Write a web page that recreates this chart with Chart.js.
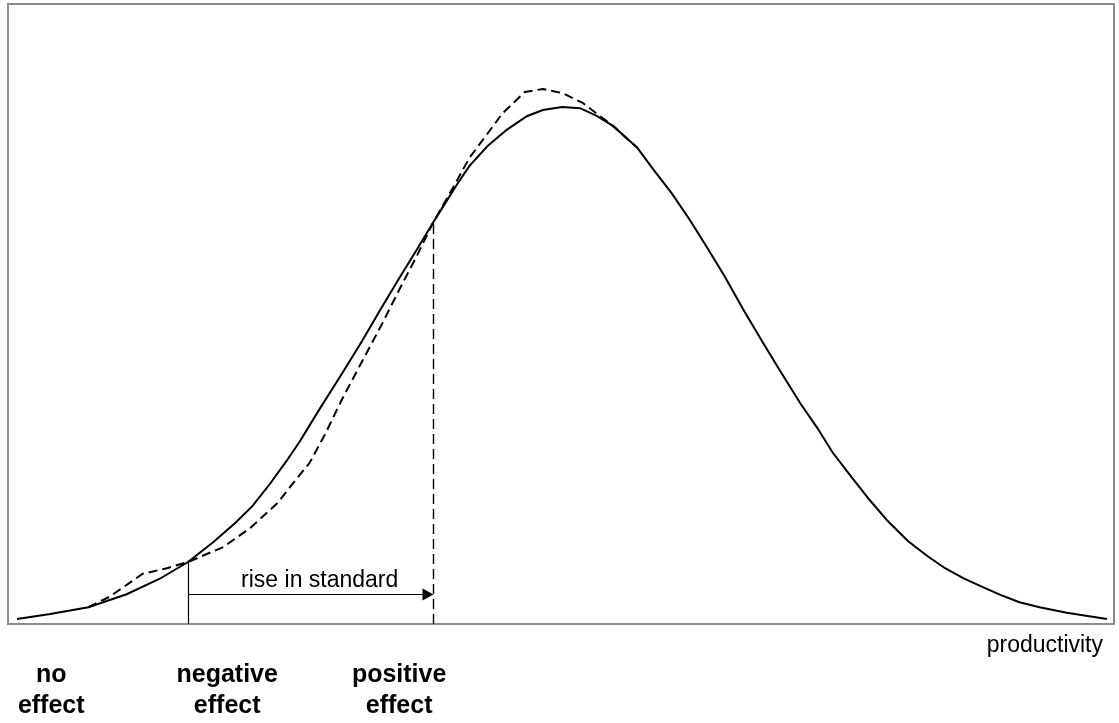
<!DOCTYPE html>
<html>
<head>
<meta charset="utf-8">
<script src="https://cdn.jsdelivr.net/npm/chart.js@4/dist/chart.umd.min.js"></script>
<style>
  html, body { margin: 0; padding: 0; background: #fff; }
  #wrap { width: 1119px; height: 723px; }
</style>
</head>
<body>
<div id="wrap"><canvas id="bellChart" width="1119" height="723"></canvas></div>
<script>
// original productivity distribution (solid)
var baseX = [0.9, 4.2, 8.0, 11.8, 15.1, 17.9, 20.4, 22.6, 24.3, 26.1, 27.7, 29.0, 31.0, 33.3, 35.2, 37.0, 38.8, 40.7, 42.3, 43.3, 44.7, 45.9, 47.7, 49.6, 51.6, 53.2, 55.1, 56.9, 58.6, 60.2, 62.6, 64.1, 66.0, 67.8, 69.5, 71.3, 73.1, 75.0, 76.8, 78.8, 80.5, 82.0, 83.9, 85.7, 87.5, 89.5, 91.4, 93.2, 95.0, 96.9, 98.7, 100.6, 102.6, 105.3, 109.3];
var baseY = [0.8, 1.6, 2.7, 4.8, 7.3, 10.0, 13.2, 16.3, 19.0, 22.7, 26.3, 29.4, 34.7, 40.6, 45.6, 50.6, 55.5, 60.5, 64.8, 67.4, 71.0, 73.9, 77.1, 79.7, 81.9, 82.9, 83.4, 83.2, 81.9, 80.3, 76.8, 73.5, 69.5, 65.2, 60.8, 56.0, 50.8, 45.6, 40.8, 35.6, 31.6, 27.7, 23.7, 20.0, 16.6, 13.4, 11.0, 9.0, 7.4, 6.0, 4.7, 3.5, 2.7, 1.8, 0.8];

// distribution after the rise in standard (dashed)
var newX = [8.0, 10.1, 13.4, 15.8, 17.9, 21.4, 24.1, 26.8, 28.3, 30.0, 31.5, 33.3, 35.2, 37.2, 39.0, 40.7, 42.3, 44.3, 45.9, 47.6, 49.2, 51.4, 53.2, 55.2, 57.2, 58.9, 60.2, 62.6];
var newY = [2.7, 4.4, 8.1, 9.0, 10.0, 12.4, 15.5, 19.5, 22.6, 26.0, 30.5, 36.5, 42.3, 48.4, 54.2, 59.5, 64.8, 70.5, 75.2, 78.9, 82.4, 85.8, 86.3, 85.6, 84.0, 81.9, 80.3, 76.8];

// old and new standard (x, height of curve)
var oldStandard = [17.9, 10.0];
var newStandard = [42.3, 64.8];
var arrowLevel = 4.8;
var arrowText = "rise in standard";
var arrowTextPos = [31.0, 6.0];

var effectLabels = [["no", "effect"], ["negative", "effect"], ["positive", "effect"]];
var effectX = [4.3, 21.8, 38.9];
var axisTitle = "productivity";

function toPoints(xs, ys) {
    return xs.map(function (x, i) { return { x: x, y: ys[i] }; });
}

var annotations = {
    id: "annotations",
    afterDatasetsDraw: function (chart) {
        var c = chart.ctx, xs = chart.scales.x, ys = chart.scales.y, a = chart.chartArea;
        c.save();
        // frame
        c.strokeStyle = "#8c8c8c";
        c.lineWidth = 2;
        c.strokeRect(a.left, a.top, a.right - a.left, a.bottom - a.top);

        c.strokeStyle = "#000";
        c.lineWidth = 1.2;
        // old standard (solid)
        var x1 = Math.round(xs.getPixelForValue(oldStandard[0])) + 0.5;
        c.beginPath();
        c.moveTo(x1, ys.getPixelForValue(0));
        c.lineTo(x1, ys.getPixelForValue(oldStandard[1]));
        c.stroke();
        // new standard (dashed)
        var x2 = Math.round(xs.getPixelForValue(newStandard[0])) + 0.5;
        c.lineWidth = 1.4;
        c.setLineDash([10, 5]);
        c.beginPath();
        c.moveTo(x2, ys.getPixelForValue(0));
        c.lineTo(x2, ys.getPixelForValue(newStandard[1]));
        c.stroke();
        c.setLineDash([]);

        // arrow
        c.lineWidth = 1.2;
        var ay = Math.round(ys.getPixelForValue(arrowLevel)) + 0.5;
        c.beginPath();
        c.moveTo(x1, ay);
        c.lineTo(x2 - 10, ay);
        c.stroke();
        c.fillStyle = "#000";
        c.beginPath();
        c.moveTo(x2, ay);
        c.lineTo(x2 - 11, ay - 6);
        c.lineTo(x2 - 11, ay + 6);
        c.closePath();
        c.fill();

        c.font = "23px 'Liberation Sans', Arial, sans-serif";
        c.textAlign = "center";
        c.textBaseline = "alphabetic";
        c.fillText(arrowText, xs.getPixelForValue(arrowTextPos[0]), ys.getPixelForValue(arrowTextPos[1]));

        // axis title
        c.textAlign = "right";
        c.fillText(axisTitle, a.right - 11, a.bottom + 28);

        // effect labels
        c.font = "bold 25px 'Liberation Sans', Arial, sans-serif";
        c.textAlign = "center";
        effectLabels.forEach(function (lines, i) {
            var lx = xs.getPixelForValue(effectX[i]);
            lines.forEach(function (t, j) {
                c.fillText(t, lx, a.bottom + 58 + j * 31);
            });
        });
        c.restore();
    }
};

var ctx = document.getElementById("bellChart").getContext("2d");
new Chart(ctx, {
    type: "line",
    data: {
        datasets: [{
            data: toPoints(baseX, baseY),
            borderColor: "#000",
            borderWidth: 2,
            pointRadius: 0,
            tension: 0,
            fill: false
        }, {
            data: toPoints(newX, newY),
            borderColor: "#000",
            borderWidth: 2,
            borderDash: [9, 5],
            pointRadius: 0,
            tension: 0,
            fill: false
        }]
    },
    options: {
        responsive: false,
        animation: false,
        layout: {
            padding: { left: 8, top: 4, right: 5, bottom: 99 }
        },
        scales: {
            x: { type: "linear", min: 0, max: 110, display: false },
            y: { type: "linear", min: 0, max: 100, display: false }
        },
        plugins: {
            legend: { display: false },
            tooltip: { enabled: false }
        }
    },
    plugins: [annotations]
});
</script>
</body>
</html>
